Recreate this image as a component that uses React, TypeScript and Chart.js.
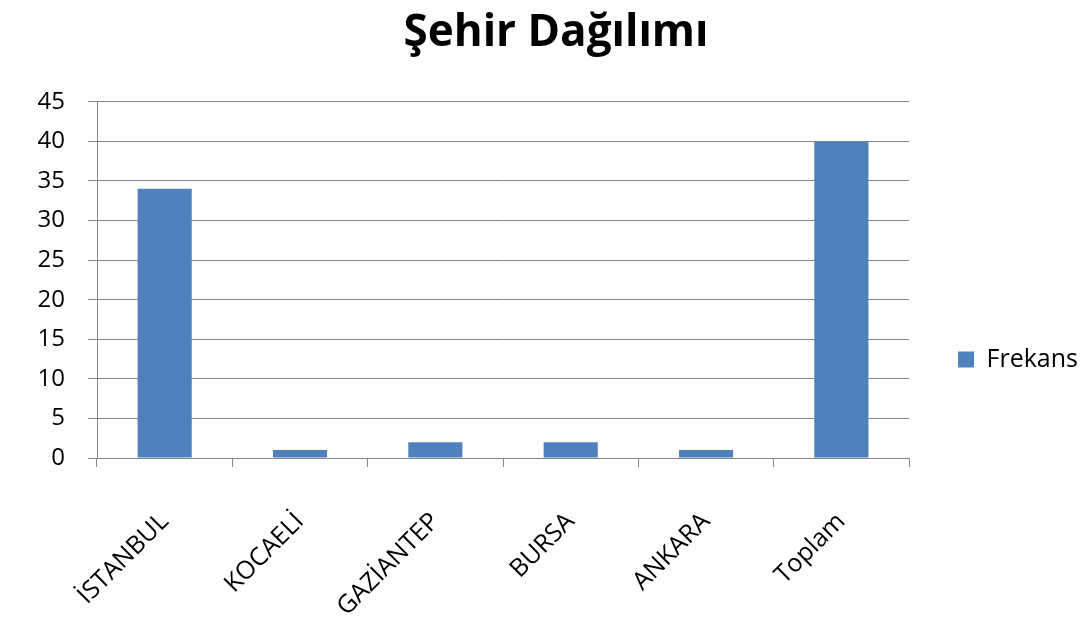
import React, { useEffect, useRef } from "react";
import { Chart, registerables } from "chart.js";

Chart.register(...registerables);

const categories = ["İSTANBUL", "KOCAELİ", "GAZİANTEP", "BURSA", "ANKARA", "Toplam"];
const frekans = [34, 1, 2, 2, 1, 40];
const seriesName = "Frekans";
const chartTitle = "Şehir Dağılımı";

const legendShift = {
  id: "legendShift",
  afterLayout(chart: any) {
    const lg = chart.legend;
    if (lg) {
      lg.top += 52;
      lg.bottom += 52;
    }
  },
};

export default function App() {
  const ref = useRef<HTMLCanvasElement | null>(null);
  useEffect(() => {
    if (!ref.current) return;
    const chart = new Chart(ref.current, {
      type: "bar",
      data: {
        labels: categories,
        datasets: [
          {
            label: seriesName,
            data: frekans,
            backgroundColor: "#4F81BD",
            borderWidth: 0,
            barPercentage: 0.4,
            categoryPercentage: 1.0,
          },
        ],
      },
      options: {
        animation: false,
        responsive: false,
        layout: { padding: { left: 24, right: 0, top: 0, bottom: 20 } },
        plugins: {
          title: {
            display: true,
            text: chartTitle,
            color: "#000",
            font: { family: "Open Sans", size: 44, weight: "bold", lineHeight: 1.2 },
            padding: { top: 7, bottom: 42 },
          },
          legend: {
            position: "right",
            labels: {
              boxWidth: 16,
              boxHeight: 16,
              padding: 49,
              color: "#000",
              font: { family: "Open Sans", size: 25 },
            },
          },
          tooltip: { enabled: false },
        },
        scales: {
          x: {
            grid: {
              offset: true,
              drawOnChartArea: false,
              drawTicks: true,
              tickLength: 9,
              color: "#868686",
            },
            border: { color: "#868686", width: 1 },
            ticks: {
              color: "#000",
              font: { family: "Open Sans", size: 25 },
              minRotation: 45,
              maxRotation: 45,
              autoSkip: false,
              padding: 40,
            },
            afterFit: (scale: any) => {
              scale.height = 157;
            },
          },
          y: {
            min: 0,
            max: 45,
            ticks: {
              stepSize: 5,
              color: "#000",
              font: { family: "Open Sans", size: 24 },
              padding: 23,
            },
            grid: { color: "#868686", tickLength: 9, drawTicks: true },
            border: { color: "#868686", width: 1 },
            afterFit: (scale: any) => {
              scale.width = 73;
            },
          },
        },
      },
      plugins: [legendShift],
    });
    return () => chart.destroy();
  }, []);
  return (
    <div style={{ position: "fixed", left: 0, top: 0, width: 1088, height: 635, background: "#fff" }}>
      <canvas ref={ref} width={1088} height={635} style={{ width: 1088, height: 635 }} />
    </div>
  );
}
